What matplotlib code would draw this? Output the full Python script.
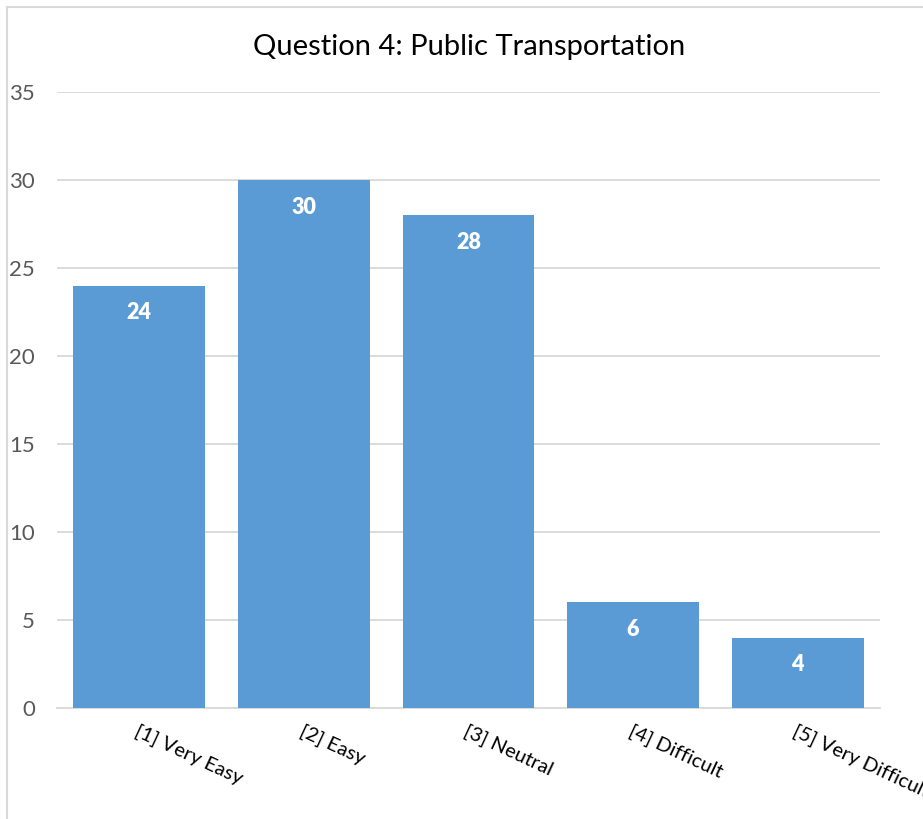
import matplotlib.pyplot as plt
from matplotlib.lines import Line2D

categories = ['[1] Very Easy', '[2] Easy', '[3] Neutral', '[4] Difficult', '[5] Very Difficult']
counts = [24, 30, 28, 6, 4]
y_ticks = [0, 5, 10, 15, 20, 25, 30, 35]

W, H = 923, 819
plt.rcParams['font.family'] = ['Lato', 'DejaVu Sans']

fig = plt.figure(figsize=(W / 100, H / 100), dpi=100)
ax = fig.add_axes([57 / W, 1 - 708 / H, (880 - 57) / W, (708 - 92) / H])

bar_color = '#5b9bd5'
grid_color = '#d9d9d9'

x = list(range(len(categories)))
ax.bar(x, counts, width=0.8, color=bar_color, zorder=3)

ax.set_xlim(-0.5, len(categories) - 0.5)
ax.set_ylim(0, 35)
ax.set_yticks(y_ticks)
ax.set_yticklabels([str(t) for t in y_ticks], fontsize=16, color='#595959')
ax.yaxis.grid(True, color=grid_color, linewidth=1.3, zorder=0)
ax.tick_params(axis='both', length=0)
ax.tick_params(axis='y', pad=16)
for side in ['left', 'right', 'top']:
    ax.spines[side].set_visible(False)
ax.spines['bottom'].set_color(grid_color)
ax.spines['bottom'].set_linewidth(1.3)

ax.set_xticks(x)
ax.set_xticklabels(categories, fontsize=14.5, color='black', rotation=-25,
                   ha='left', va='top', rotation_mode='anchor')
ax.tick_params(axis='x', pad=10)

# labels inside bars
for xi, v in zip(x, counts):
    ax.annotate(str(v), (xi, v), xytext=(0, -19.5), textcoords='offset points',
                ha='center', va='center', color='white', fontsize=15.5,
                fontweight='heavy', zorder=4)

fig.text(469 / W, 1 - 47 / H, 'Question 4: Public Transportation',
         ha='center', va='center', fontsize=21, color='black')

# chart border (cropped on right and bottom)
fig.add_artist(Line2D([7 / W, 7 / W], [0, 1 - 7 / H], color=grid_color, linewidth=1.5))
fig.add_artist(Line2D([7 / W, 1], [1 - 7 / H, 1 - 7 / H], color=grid_color, linewidth=1.5))

fig.savefig('out.png', dpi=100)
